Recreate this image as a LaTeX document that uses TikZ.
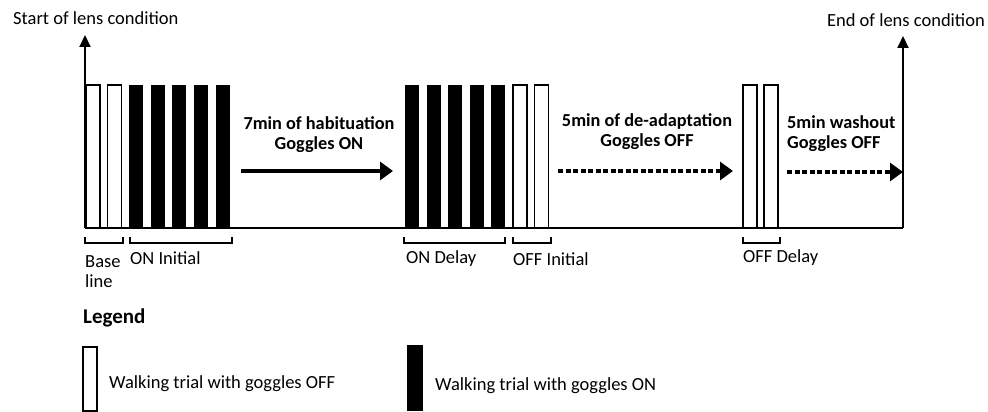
\documentclass[tikz,border=0pt]{standalone}
\usepackage{fontspec}
\setmainfont{Carlito}
\usepackage{tikz}
\usetikzlibrary{arrows.meta}

\begin{document}
\begin{tikzpicture}[x=1pt,y=-1pt,
	lbl/.style={font=\fontsize{18.5}{20}\selectfont,inner sep=0pt},
	hd/.style={lbl,font=\fontsize{18.3}{20}\selectfont\bfseries},
	offbar/.style={draw,line width=1.2pt,fill=white},
	onbar/.style={fill=black},
	brace/.style={line width=1.1pt},
	axis/.style={line width=2pt,-{Triangle[length=12pt,width=11pt]}},
	phase/.style={line width=4pt,-{Triangle[length=13pt,width=18pt]}},
	washout/.style={phase,dash pattern=on 5pt off 2.5pt}]
	\useasboundingbox (0,0) rectangle (988,412);
	\coordinate (O) at (85,228); \coordinate (E) at (903,228);
	\coordinate (Otop) at (85,35); \coordinate (Etop) at (903,36);
	\foreach \x in {86,107.6,513,534.6,743,764} \draw[offbar] (\x,85) rectangle ++(14,143);
	\foreach \x in {129.2,150.8,172.4,194,215.6,405,426.6,448.2,469.8,491.4} \fill[onbar] (\x,85) rectangle ++(14,143);
	\draw[line width=1.2pt] (O)--(E);
	\draw[axis] (O)--(Otop);
	\draw[axis] (E)--(Etop);
	\node[lbl,anchor=base west] (start) at (13,25) {Start of lens condition};
	\node[lbl,anchor=base east] (end) at (985,27) {End of lens condition};
	\draw[brace] (85,237)|-(123,243)--(123,237);
	\draw[brace] (130,237)|-(232,243)--(232,237);
	\draw[brace] (404,237)|-(505,243)--(505,237);
	\draw[brace] (513,237)|-(551,243)--(551,237);
	\draw[brace] (743,237)|-(780,243)--(780,237);
	\node[lbl,anchor=north west,align=left] (base) at (85,255) {Base\\line};
	\node[lbl,anchor=base west] (oninit) at (130,264) {ON Initial};
	\node[lbl,anchor=base west] (ondelay) at (406,263) {ON Delay};
	\node[lbl,anchor=base west] (offinit) at (513,265) {OFF Initial};
	\node[lbl,anchor=base west] (offdelay) at (743,262) {OFF Delay};
	\node[hd,anchor=north,align=center] (hab) at (319,116) {7min of habituation\\Goggles ON};
	\node[hd,anchor=north,align=center] (deadapt) at (647,113) {5min of de-adaptation\\Goggles OFF};
	\node[hd,anchor=north west,align=left] (wash) at (787,115) {5min washout\\Goggles OFF};
	\coordinate (h1) at (241,171); \coordinate (h2) at (393,171);
	\coordinate (d1) at (558,171); \coordinate (d2) at (733,171);
	\coordinate (w1) at (787,172); \coordinate (w2) at (E|-w1);
	\draw[phase] (h1)--(h2);
	\draw[washout] (d1)--(d2);
	\draw[washout] (w1)--(w2);
	\node[hd,font=\fontsize{21}{24}\selectfont\bfseries,anchor=base west] (legend) at (83,323) {Legend};
	\draw[offbar] (83,347) rectangle (97,411);
	\node[lbl,anchor=base west] (legoff) at (109,388) {Walking trial with goggles OFF};
	\fill[onbar] (407,345) rectangle (423,411);
	\node[lbl,anchor=base west] (legon) at (435,390) {Walking trial with goggles ON};
\end{tikzpicture}
\end{document}
